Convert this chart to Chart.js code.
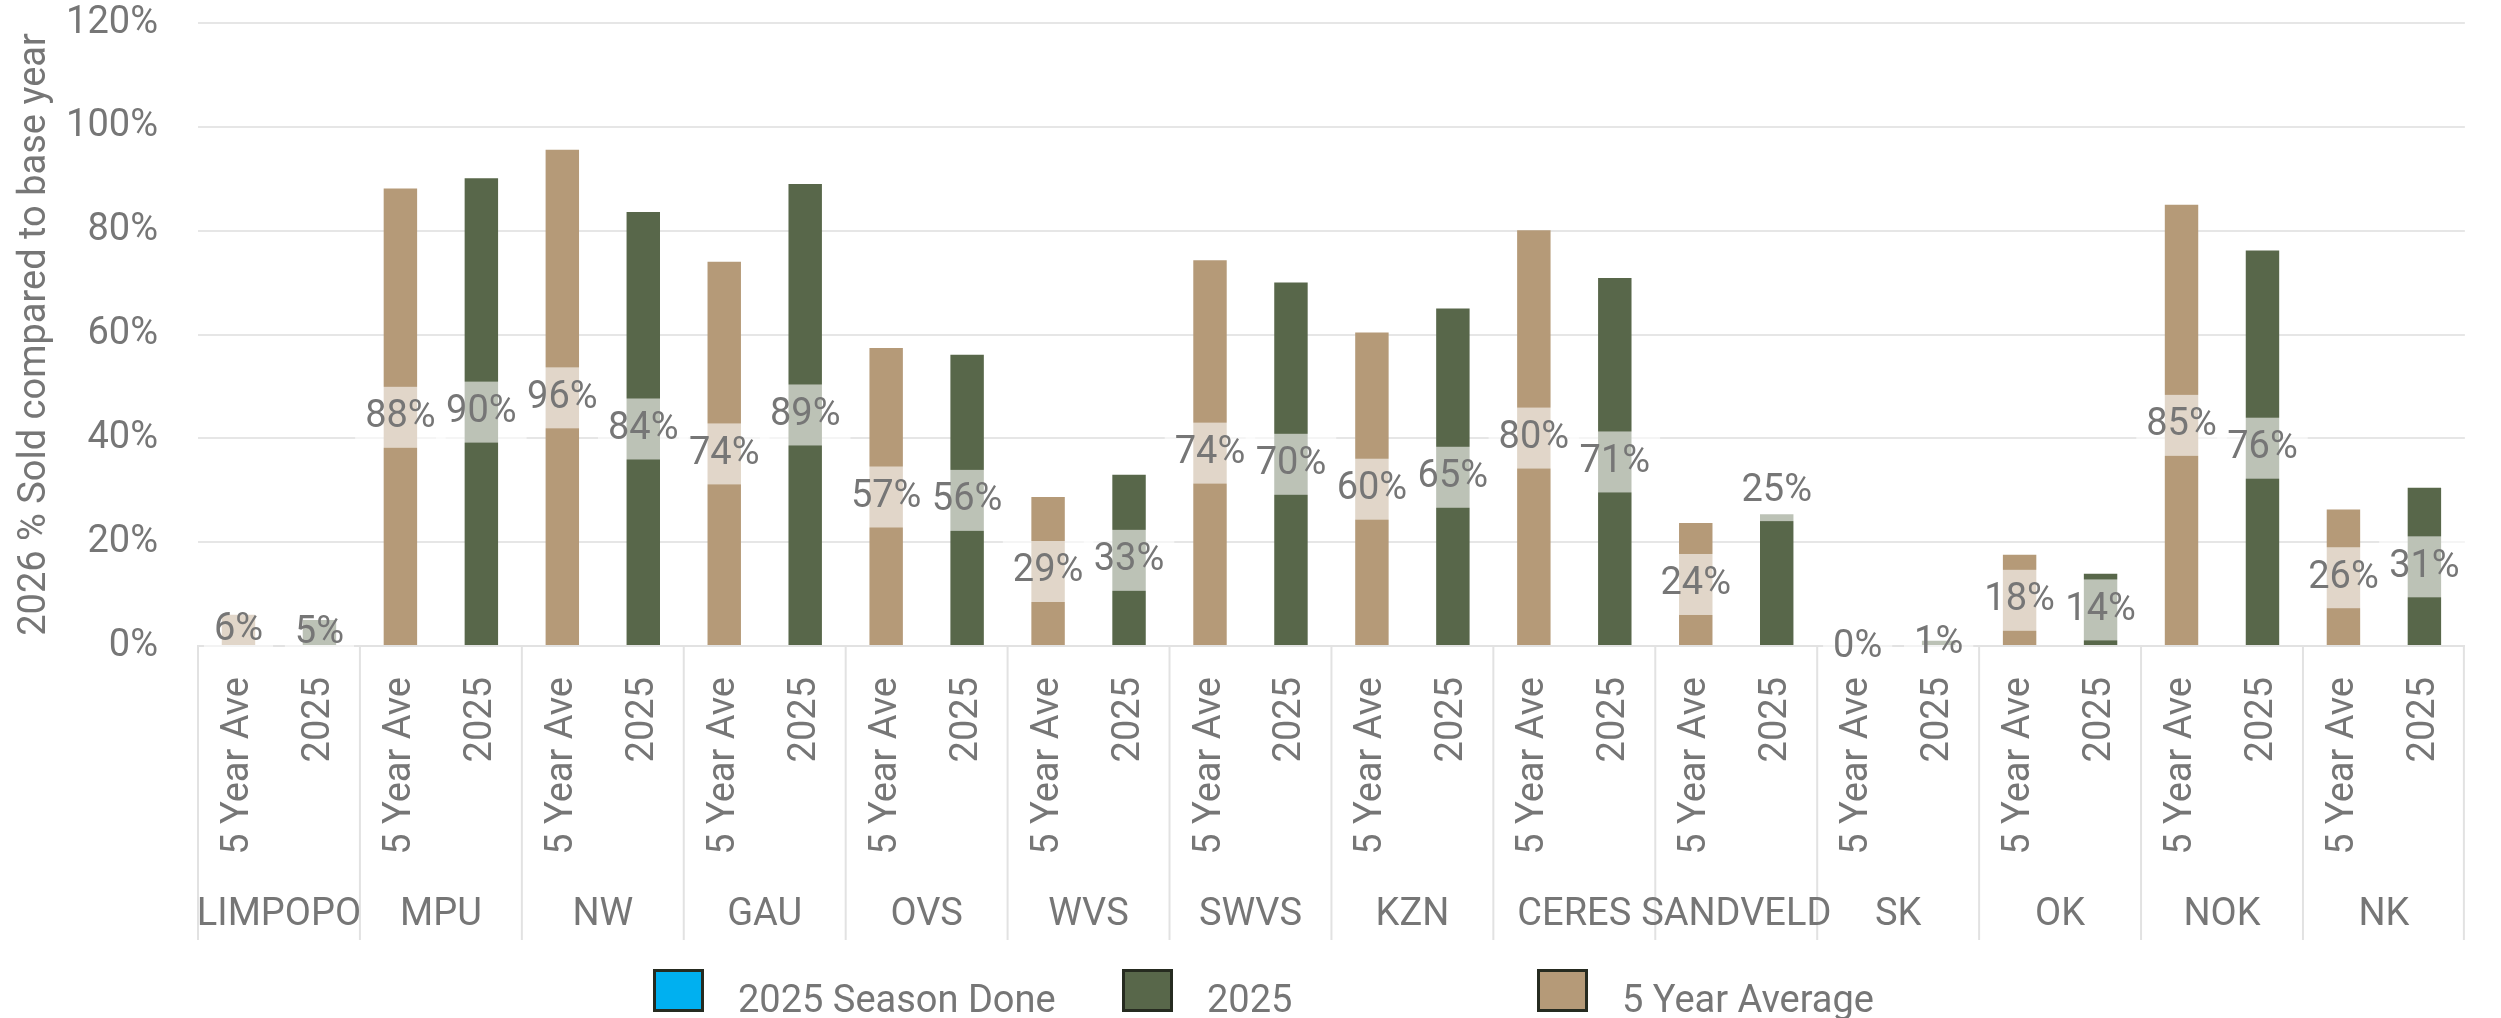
<!DOCTYPE html>
<html lang="en">
<head>
  <meta charset="UTF-8" />
  <title>2026 % Sold compared to base year</title>
  <style>
    body {
      margin: 0;
      background: #fff;
    }
    .wrap {
      width: 2501px;
      height: 1018px;
      position: relative;
    }
  </style>
</head>
<body>
  <div class="wrap">
    <canvas id="soldChart"></canvas>
  </div>

  <script src="https://cdn.jsdelivr.net/npm/chart.js"></script>
  <script>
    // values (fraction of base year)
    const regions = ['LIMPOPO', 'MPU', 'NW', 'GAU', 'OVS', 'WVS', 'SWVS', 'KZN', 'CERES', 'SANDVELD', 'SK', 'OK', 'NOK', 'NK'];
    const subLabels = ['5 Year Ave', '2025'];
    const fiveYearAve = [0.06, 0.881, 0.956, 0.74, 0.574, 0.287, 0.743, 0.604, 0.801, 0.237, 0.0, 0.176, 0.85, 0.263];
    const season2025 = [0.05, 0.901, 0.836, 0.89, 0.561, 0.33, 0.70, 0.65, 0.709, 0.254, 0.01, 0.139, 0.762, 0.305];
    const seasonDone = [];
    const yTicks = [0, 0.2, 0.4, 0.6, 0.8, 1.0, 1.2];

    const FONT = 'Roboto, "Liberation Sans", sans-serif';
    const GREY = '#767676';
    const TAN = '#B59A78';
    const GREEN = '#58674A';
    const BLUE = '#00B0F0';

    // 2 bars per region: flat category list
    const labels = regions.flatMap(() => subLabels);
    const tanData = regions.flatMap((r, i) => [fiveYearAve[i], null]);
    const greenData = regions.flatMap((r, i) => [null, season2025[i]]);

    const pct = v => Math.round(v * 100) + '%';

    // centered value labels with a translucent white box (like the excel labels)
    const valueLabels = {
      id: 'valueLabels',
      afterDatasetsDraw(chart, args, opts) {
        const ctx = chart.ctx;
        ctx.save();
        ctx.font = '38px ' + FONT;
        ctx.textAlign = 'center';
        ctx.textBaseline = 'middle';
        chart.data.datasets.forEach((ds, di) => {
          const meta = chart.getDatasetMeta(di);
          meta.data.forEach((bar, i) => {
            const v = ds.data[i];
            if (v === null || v === undefined) return;
            const txt = pct(v);
            const key = regions[Math.floor(i / 2)] + ' ' + subLabels[i % 2];
            let cy = (bar.y + bar.base) / 2;
            if (opts.above.includes(key)) cy = bar.y - 24;
            const w = ctx.measureText(txt).width + 20;
            ctx.fillStyle = 'rgba(255,255,255,0.6)';
            ctx.fillRect(bar.x - w / 2, cy - 30, w, 61);
            ctx.fillStyle = GREY;
            ctx.fillText(txt, bar.x, cy + 1);
          });
        });
        ctx.restore();
      }
    };

    // region level of the category axis: separators + names
    const groupAxis = {
      id: 'groupAxis',
      afterDraw(chart) {
        const ctx = chart.ctx;
        const x = chart.scales.x;
        const area = chart.chartArea;
        const step = x.getPixelForValue(1) - x.getPixelForValue(0);
        ctx.save();
        ctx.strokeStyle = '#e2e2e2';
        ctx.lineWidth = 2;
        for (let g = 0; g <= regions.length; g++) {
          const px = Math.min(x.getPixelForValue(g * 2) - step / 2, area.right - 1);
          ctx.beginPath();
          ctx.moveTo(px, area.bottom);
          ctx.lineTo(px, 940);
          ctx.stroke();
        }
        ctx.font = '38px ' + FONT;
        ctx.fillStyle = GREY;
        ctx.textAlign = 'center';
        ctx.textBaseline = 'middle';
        regions.forEach((r, g) => {
          const cx = (x.getPixelForValue(g * 2) + x.getPixelForValue(g * 2 + 1)) / 2;
          ctx.fillText(r, cx, 915);
        });
        ctx.restore();
      }
    };

    // bottom legend with the excel-style spacing
    const bottomLegend = {
      id: 'bottomLegend',
      afterDraw(chart, args, opts) {
        const ctx = chart.ctx;
        ctx.save();
        ctx.font = '38px ' + FONT;
        ctx.textBaseline = 'alphabetic';
        opts.items.forEach(it => {
          const ds = chart.data.datasets[it.dataset];
          ctx.fillStyle = ds.backgroundColor;
          ctx.fillRect(it.x, 969, 51, 43);
          ctx.strokeStyle = '#262b20';
          ctx.lineWidth = 3;
          ctx.strokeRect(it.x + 1.5, 970.5, 48, 40);
          ctx.fillStyle = GREY;
          ctx.fillText(ds.label, it.x + 85, 1012);
        });
        ctx.restore();
      }
    };

    new Chart(document.getElementById('soldChart'), {
      type: 'bar',
      data: {
        labels: labels,
        datasets: [
          { label: '2025 Season Done', data: seasonDone, backgroundColor: BLUE },
          { label: '2025', data: greenData, backgroundColor: GREEN },
          { label: '5 Year Average', data: tanData, backgroundColor: TAN }
        ]
      },
      options: {
        responsive: true,
        maintainAspectRatio: false,
        animation: false,
        layout: { padding: { top: 23, right: 0, bottom: 0, left: 0 } },
        datasets: {
          bar: {
            grouped: false,
            barPercentage: 0.413,
            categoryPercentage: 1.0,
            skipNull: true
          }
        },
        plugins: {
          legend: { display: false },
          tooltip: { enabled: false },
          valueLabels: { above: ['SANDVELD 2025'] },
          bottomLegend: {
            items: [
              { dataset: 0, x: 653 },
              { dataset: 1, x: 1122 },
              { dataset: 2, x: 1537 }
            ]
          }
        },
        scales: {
          x: {
            afterFit: s => { s.height = 372; },
            grid: { display: false, drawTicks: false },
            border: { display: true, color: '#e2e2e2', width: 2 },
            ticks: {
              autoSkip: false,
              minRotation: 90,
              maxRotation: 90,
              padding: 31,
              color: GREY,
              font: { family: FONT, size: 38 }
            }
          },
          y: {
            min: 0,
            max: 1.2,
            afterFit: s => { s.width = 198; s.paddingTop = 0; s.paddingBottom = 0; },
            afterBuildTicks: s => { s.ticks = yTicks.map(v => ({ value: v })); },
            grid: { color: '#e6e6e6', lineWidth: 2, drawTicks: false },
            border: { display: false },
            ticks: {
              padding: 40,
              color: GREY,
              font: { family: FONT, size: 38 },
              callback: v => pct(v)
            },
            title: {
              display: true,
              text: '2026 % Sold compared to base year',
              color: GREY,
              font: { family: FONT, size: 38 },
              padding: { top: 13, bottom: 0 }
            }
          }
        }
      },
      plugins: [valueLabels, groupAxis, bottomLegend]
    });
  </script>
</body>
</html>
